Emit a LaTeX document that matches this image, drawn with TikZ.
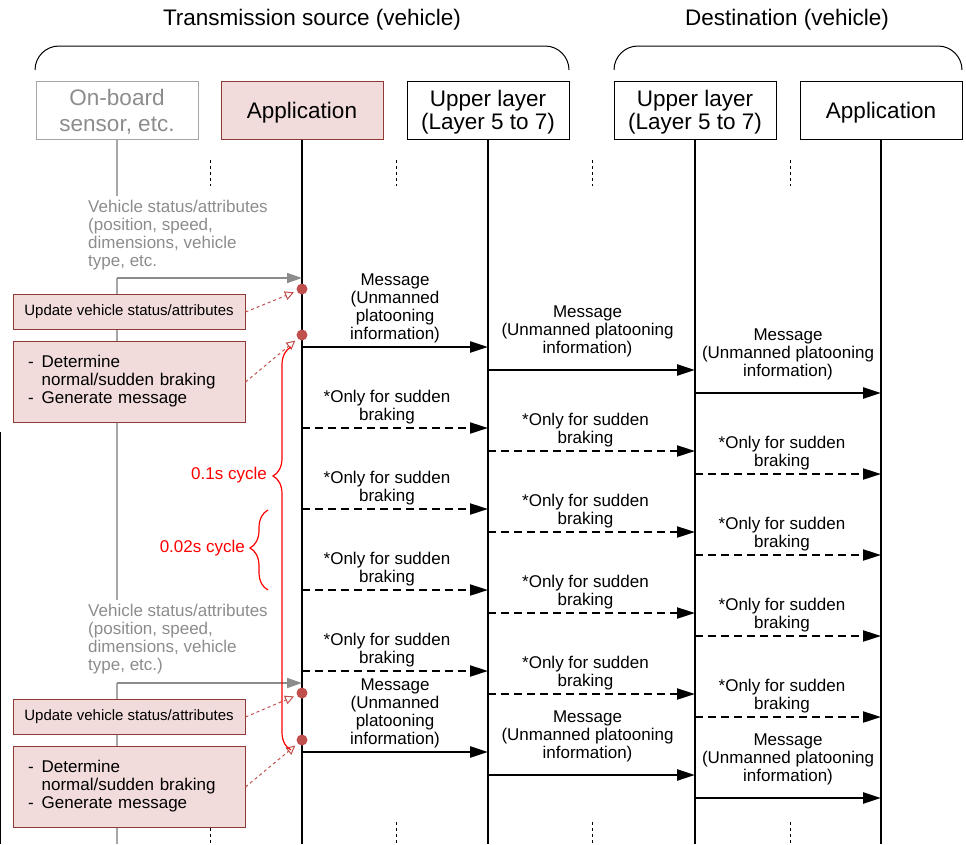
\documentclass[tikz,border=0pt]{standalone}
\usepackage{fontspec}
\setmainfont{Liberation Sans}
\usetikzlibrary{arrows.meta, calc, decorations.pathreplacing}

\definecolor{boxpink}{HTML}{F2DCDB}
\definecolor{boxedge}{HTML}{8E3B38}
\definecolor{dotred}{HTML}{C0504D}
\definecolor{sensgray}{HTML}{8C8C8C}
\definecolor{sensline}{HTML}{A6A6A6}

\newcommand{\bigfont}{\fontsize{22.5}{22.5}\selectfont}
\newcommand{\smfont}{\fontsize{17}{18}\selectfont}

\begin{document}
\begin{tikzpicture}[
    x=1pt, y=-1pt,
    title/.style={font=\bigfont},
    head/.style={draw, line width=1pt, minimum width=162pt, minimum height=58pt, inner sep=0pt, text depth=0pt, align=center, font=\bigfont},
    lifeline/.style={line width=1.5pt},
    sensorline/.style={sensline, line width=1.2pt},
    msg/.style={line width=2.5pt, -{Triangle[length=18pt, width=11pt]}},
    dmsg/.style={msg, line width=2pt, dash pattern=on 8pt off 5pt},
    lbl/.style={font=\smfont, align=center, above, inner sep=3pt},
    proc/.style={draw=boxedge, fill=boxpink, line width=1pt, minimum width=232pt, inner sep=0pt},
    dot/.style={circle, fill=dotred, minimum size=11pt, inner sep=0pt},
    cue/.style={dotred, dashed, line width=1pt, -{Triangle[open, length=9pt, width=9pt]}, shorten >=3pt},
    stat/.style={sensgray, line width=1.5pt, -{Triangle[length=15pt, width=10pt]}},
    vstat/.style={text=sensgray, font=\smfont, align=left, anchor=north west, inner sep=4pt},
    brc/.style={red, line width=1.2pt, decorate},
    cyc/.style={red, font=\smfont, anchor=east, inner sep=0pt},
    tick/.style={dash pattern=on 3pt off 3pt, line width=0.8pt}
]

\useasboundingbox (0,0) rectangle (966,844);

\def\yTop{110}
\coordinate (bot) at (0,844);

% titles and brackets
\node[title] (srcttl) at (312,20) {Transmission source (vehicle)};
\node[title] (dstttl) at (787,20) {Destination (vehicle)};
\draw[line width=1pt, rounded corners=24pt] (35,70) -- (35,46) -- (569,46) -- (569,70);
\draw[line width=1pt, rounded corners=24pt] (614,70) -- (614,46) -- (962,46) -- (962,70);

% participants
\node[head, draw=sensline, text=sensgray, font=\fontsize{22.5}{26}\selectfont] (sensor) at (117,\yTop) {On-board\\sensor, etc.};
\node[head, draw=boxedge, fill=boxpink] (app) at (302,\yTop) {Application};
\node[head] (srcul) at (488,\yTop) {Upper layer\\(Layer 5 to 7)};
\node[head] (dstul) at (695,\yTop) {Upper layer\\(Layer 5 to 7)};
\node[head] (dstapp) at (881,\yTop) {Application};

\draw[lifeline] (app.south)    -- (app.south |- bot);
\draw[lifeline] (srcul.south)  -- (srcul.south |- bot);
\draw[lifeline] (dstul.south)  -- (dstul.south |- bot);
\draw[lifeline] (dstapp.south) -- (dstapp.south |- bot);

% omitted parts
\foreach \x in {210,396,592,790} {
  \draw[tick] (\x,160) -- (\x,186);
  \draw[tick] (\x,822) -- (\x,844);
}
\draw[line width=1pt] (0.5,432) -- (0.5,844);

% sensor input
\node[vstat] (vs1) at (84,196) {Vehicle status/attributes\\(position, speed,\\dimensions, vehicle\\type, etc.};
\node[vstat] (vs2) at (84,600) {Vehicle status/attributes\\(position, speed,\\dimensions, vehicle\\type, etc.)};
\coordinate (s1) at (117,278);
\coordinate (s2) at (117,683);
\draw[sensorline] (sensor.south) -- (sensor.south |- vs1.north);
\draw[sensorline] (s1) -- (s1 |- vs2.north);
\draw[sensorline] (s2) -- (s2 |- bot);
\draw[stat] (s1) -- (app |- s1);
\draw[stat] (s2) -- (app |- s2);

% application steps
\node[proc, minimum height=35pt, font=\fontsize{15}{18}\selectfont] (upd1) at (129,312) {Update vehicle status/attributes};
\node[proc, minimum height=81pt, text width=202pt, inner xsep=15pt, align=left, font=\smfont] (gen1) at (129,382)
  {\begin{tabular}{@{}l@{\hspace{8pt}}l@{}}-&Determine\\&normal/sudden braking\\-&Generate message\end{tabular}};
\node[proc, minimum height=35pt, font=\fontsize{15}{18}\selectfont] (upd2) at (129,717) {Update vehicle status/attributes};
\node[proc, minimum height=81pt, text width=202pt, inner xsep=15pt, align=left, font=\smfont] (gen2) at (129,787)
  {\begin{tabular}{@{}l@{\hspace{8pt}}l@{}}-&Determine\\&normal/sudden braking\\-&Generate message\end{tabular}};

\node[dot] (d1) at (302,289) {};
\node[dot] (d2) at (302,335) {};
\node[dot] (d3) at (302,693) {};
\node[dot] (d4) at (302,740) {};

\draw[cue] (upd1.east) -- (d1);
\draw[cue] (gen1.east) -- (d2);
\draw[cue] (upd2.east) -- (d3);
\draw[cue] (gen2.east) -- (d4);

% cycles
\draw[brc, decoration={brace, amplitude=18pt, aspect=0.68}] (291,750) -- (291,347);
\node[cyc] (c1) at (267,475) {0.1s cycle};
\draw[brc, decoration={brace, amplitude=18pt, aspect=0.525}] (268,590) -- (268,510);
\node[cyc] (c2) at (245,548) {0.02s cycle};

% message rows
\foreach \k in {0,...,5} {
  \coordinate (ra\k) at (0,{347+81*\k});
  \coordinate (rb\k) at (0,{370+81*\k});
  \coordinate (rc\k) at (0,{393+81*\k});
}

\foreach \k in {0,5} {
  \draw[msg] (app |- ra\k)   -- node[lbl]{Message\\(Unmanned\\platooning\\information)} (srcul |- ra\k);
  \draw[msg] (srcul |- rb\k) -- node[lbl, yshift=9pt, xshift=-4pt]{Message\\(Unmanned platooning\\information)} (dstul |- rb\k);
  \draw[msg] (dstul |- rc\k) -- node[lbl, yshift=9pt]{Message\\(Unmanned platooning\\information)} (dstapp |- rc\k);
}

\foreach \k in {1,...,4} {
  \draw[dmsg] (app |- ra\k)   -- node[lbl, xshift=-8pt]{*Only for sudden\\braking} (srcul |- ra\k);
  \draw[dmsg] (srcul |- rb\k) -- node[lbl, xshift=-6pt]{*Only for sudden\\braking} (dstul |- rb\k);
  \draw[dmsg] (dstul |- rc\k) -- node[lbl, xshift=-6pt]{*Only for sudden\\braking} (dstapp |- rc\k);
}

\end{tikzpicture}
\end{document}
